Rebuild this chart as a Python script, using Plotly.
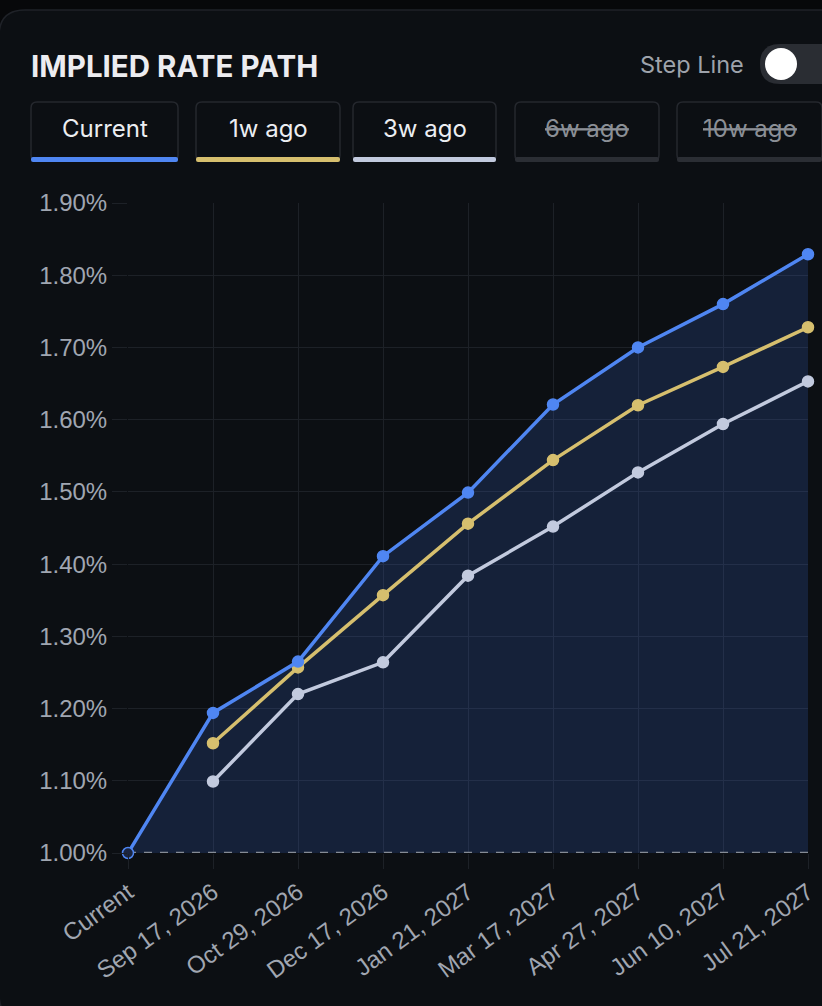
import plotly.graph_objects as go

# datos
fechas = ["Current", "Sep 17, 2026", "Oct 29, 2026", "Dec 17, 2026", "Jan 21, 2027",
          "Mar 17, 2027", "Apr 27, 2027", "Jun 10, 2027", "Jul 21, 2027"]
actual = [1.00, 1.194, 1.265, 1.411, 1.499, 1.621, 1.700, 1.760, 1.829]
hace_1s = [None, 1.152, 1.257, 1.357, 1.456, 1.544, 1.620, 1.673, 1.728]
hace_3s = [None, 1.099, 1.220, 1.264, 1.384, 1.452, 1.527, 1.594, 1.653]
base = 1.00

series = ["Current", "1w ago", "3w ago", "6w ago", "10w ago"]
visibles = [True, True, True, False, False]
colores = ["#4f86f2", "#d6bf6e", "#c2cade", "#2b2e34", "#2b2e34"]

FONDO = "#07080a"
TARJETA = "#0c0f13"
REJILLA = "#1d2127"
TEXTO_EJE = "#a0a6b1"

# area del grafico en pixeles
L, R, T, B = 128, 808, 203, 853
W, H = 822, 1006


def fx(x):
    return (x - L) / (R - L)


def fy(y):
    return (B - y) / (B - T)


def rect_redondo(x0, y0, x1, y1, r):
    p = lambda x, y: f"{fx(x):.5f},{fy(y):.5f}"
    return (f"M {p(x0 + r, y0)} L {p(x1 - r, y0)} Q {p(x1, y0)} {p(x1, y0 + r)} "
            f"L {p(x1, y1 - r)} Q {p(x1, y1)} {p(x1 - r, y1)} L {p(x0 + r, y1)} "
            f"Q {p(x0, y1)} {p(x0, y1 - r)} L {p(x0, y0 + r)} Q {p(x0, y0)} {p(x0 + r, y0)} Z")


fig = go.Figure()

# referencia para el relleno
fig.add_trace(go.Scatter(x=fechas, y=[base] * len(fechas), mode="lines",
                         line=dict(width=0, color="rgba(0,0,0,0)"), hoverinfo="skip"))
fig.add_trace(go.Scatter(x=fechas, y=actual, mode="none", fill="tonexty",
                         fillcolor="rgba(62,112,225,0.19)", hoverinfo="skip"))
fig.add_trace(go.Scatter(x=fechas, y=[base] * len(fechas), mode="lines",
                         line=dict(width=2.5, color="#858b95", dash="8px,8px"),
                         hoverinfo="skip"))

for nombre, valores, color in [("3w ago", hace_3s, colores[2]),
                               ("1w ago", hace_1s, colores[1]),
                               ("Current", actual, colores[0])]:
    # el primer punto de "Current" se ve como un aro
    relleno = [("#1b2540" if (nombre == "Current" and i == 0) else color)
               for i in range(len(valores))]
    fig.add_trace(go.Scatter(x=fechas, y=valores, name=nombre, mode="lines+markers",
                             line=dict(color=color, width=3.5),
                             marker=dict(color=relleno, size=11,
                                         line=dict(color=color, width=1.5)),
                             cliponaxis=False))

shapes = []
annotations = []

# tarjeta
shapes.append(dict(type="path", xref="paper", yref="paper", layer="below",
                   path=rect_redondo(-1, 10, 850, 1020, 26),
                   fillcolor=TARJETA, line=dict(color="#1f2228", width=1.5)))

# titulo
annotations.append(dict(x=fx(29), y=fy(66), xref="paper", yref="paper",
                        xanchor="left", yanchor="middle", showarrow=False,
                        text="<b>IMPLIED RATE PATH</b>",
                        font=dict(family="Inter", size=29.5, color="#ececf0")))

# interruptor "Step Line"
annotations.append(dict(x=fx(746), y=fy(64), xref="paper", yref="paper",
                        xanchor="right", yanchor="middle", showarrow=False,
                        text="Step Line",
                        font=dict(family="Inter", size=23.5, color="#9ea3ab")))
shapes.append(dict(type="path", xref="paper", yref="paper",
                   path=rect_redondo(760, 44, 870, 84, 20),
                   fillcolor="#2a2d33", line=dict(width=0)))
shapes.append(dict(type="circle", xref="paper", yref="paper",
                   x0=fx(765), x1=fx(797), y0=fy(48), y1=fy(80),
                   fillcolor="#ffffff", line=dict(width=0)))

# botones de la leyenda
cajas = [(31, 178), (196, 340), (353, 496), (515, 659), (677, 822)]
for nombre, vis, color, (x0, x1) in zip(series, visibles, colores, cajas):
    shapes.append(dict(type="path", xref="paper", yref="paper",
                       path=rect_redondo(x0, 102, x1, 161, 6),
                       fillcolor=TARJETA, line=dict(color="#25282e", width=1.5)))
    shapes.append(dict(type="path", xref="paper", yref="paper",
                       path=rect_redondo(x0, 157, x1, 162, 2),
                       fillcolor=color, line=dict(width=0)))
    if vis:
        txt = nombre
        col = "#eceef2"
    else:
        txt = f"<span style='text-decoration: line-through'>{nombre}</span>"
        col = "#8b8f96"
    annotations.append(dict(x=fx((x0 + x1) / 2), y=fy(129), xref="paper", yref="paper",
                            xanchor="center", yanchor="middle", showarrow=False,
                            text=txt, font=dict(family="Inter", size=24, color=col)))

fig.update_layout(
    width=W, height=H,
    margin=dict(l=L, r=W - R, t=T, b=H - B),
    paper_bgcolor=FONDO,
    plot_bgcolor="rgba(0,0,0,0)",
    showlegend=False,
    hovermode=False,
    shapes=shapes,
    annotations=annotations,
    font=dict(family="Liberation Sans", color=TEXTO_EJE),
)
fig.update_xaxes(type="category", range=[0, len(fechas) - 1], automargin=False,
                 showgrid=True, gridcolor=REJILLA, gridwidth=1,
                 ticks="outside", ticklen=15, tickcolor=REJILLA,
                 tickangle=-36, tickfont=dict(size=24, color=TEXTO_EJE),
                 showline=False, zeroline=False)
fig.update_yaxes(range=[1.0, 1.9], dtick=0.1, tickformat=".2f", ticksuffix="%",
                 automargin=False, showgrid=True, gridcolor=REJILLA, gridwidth=1,
                 ticks="outside", ticklen=15, tickcolor=REJILLA,
                 tickfont=dict(size=24, color=TEXTO_EJE),
                 showline=False, zeroline=False)

fig.write_html("out.html", config={"displayModeBar": False},
               post_script="document.body.style.margin='0';document.body.style.overflow='hidden';")
